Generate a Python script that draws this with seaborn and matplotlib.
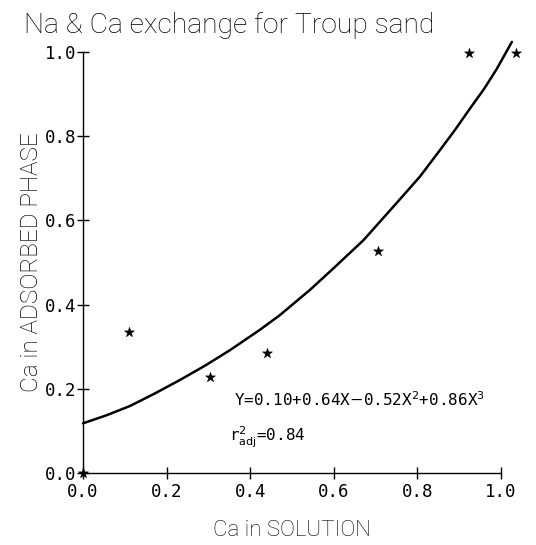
import matplotlib
matplotlib.use("Agg")
import matplotlib.pyplot as plt
import seaborn as sns
import pandas as pd

# observed points
obs_x = [0.0, 0.111, 0.304, 0.439, 0.706, 0.924, 1.037]
obs_y = [0.0, 0.336, 0.227, 0.286, 0.527, 0.998, 0.998]

# fitted curve
fit_x = [0.0, 0.056, 0.112, 0.172, 0.232, 0.292, 0.352, 0.423, 0.471, 0.543, 0.599,
         0.671, 0.750, 0.806, 0.854, 0.890, 0.926, 0.960, 0.990, 1.026]
fit_y = [0.118, 0.137, 0.159, 0.189, 0.221, 0.255, 0.292, 0.340, 0.375, 0.435, 0.486,
         0.553, 0.641, 0.704, 0.767, 0.815, 0.866, 0.913, 0.960, 1.024]

ticks = [0.0, 0.2, 0.4, 0.6, 0.8, 1.0]
tick_labels = ["0.0", "0.2", "0.4", "0.6", "0.8", "1.0"]

sns.set_style("ticks")
plt.rcParams['font.family'] = ['DejaVu Sans']
plt.rcParams['axes.labelcolor'] = 'black'
plt.rcParams['text.color'] = 'black'

fig = plt.figure(figsize=(5.36, 5.45), dpi=100)
ax = fig.add_axes([83/536, 1-473/545, 418/536, 421/545])

df_obs = pd.DataFrame({"x": obs_x, "y": obs_y})
df_fit = pd.DataFrame({"x": fit_x, "y": fit_y})

sns.lineplot(data=df_fit, x="x", y="y", ax=ax, color="black", linewidth=1.8,
             sort=False, clip_on=False)
sns.scatterplot(data=df_obs, x="x", y="y", ax=ax, color="black", marker="*",
                s=55, edgecolor="black", linewidth=0.4, clip_on=False, zorder=5)

ax.set_xlim(0, 1)
ax.set_ylim(0, 1)
ax.set_xticks(ticks)
ax.set_yticks(ticks)
ax.set_xticklabels(tick_labels, family="DejaVu Sans Mono", fontsize=12.5)
ax.set_yticklabels(tick_labels, family="DejaVu Sans Mono", fontsize=12.5)
for s in ["top", "right"]:
    ax.spines[s].set_visible(False)
for s in ["left", "bottom"]:
    ax.spines[s].set_linewidth(1.0)
    ax.spines[s].set_color("black")
ax.tick_params(direction="inout", length=8, width=1.0, colors="black", pad=1)
ax.tick_params(axis="x", pad=3)

ax.set_xlabel("Ca in SOLUTION", fontsize=16, labelpad=14, color="black",
              family="Roboto", fontweight="light")
ax.set_ylabel("Ca in ADSORBED PHASE", fontsize=17.5, labelpad=1, color="black",
              family="Roboto", fontweight="light")

fig.text(24/536, 1-33/545, "Na & Ca exchange for Troup sand", fontsize=20.3,
         ha="left", va="baseline", color="black", family="Roboto", fontweight="light")

ax.text(0.362, 0.16, r"Y=0.10+0.64X$-$0.52X$^2$+0.86X$^3$", fontsize=11.5,
        family="DejaVu Sans Mono", transform=ax.transAxes, ha="left", va="baseline")
ax.text(0.350, 0.075, r"r$^2_{\rm adj}$=0.84", fontsize=11.5,
        family="DejaVu Sans Mono", transform=ax.transAxes, ha="left", va="baseline")

fig.savefig("out.png", dpi=100)
